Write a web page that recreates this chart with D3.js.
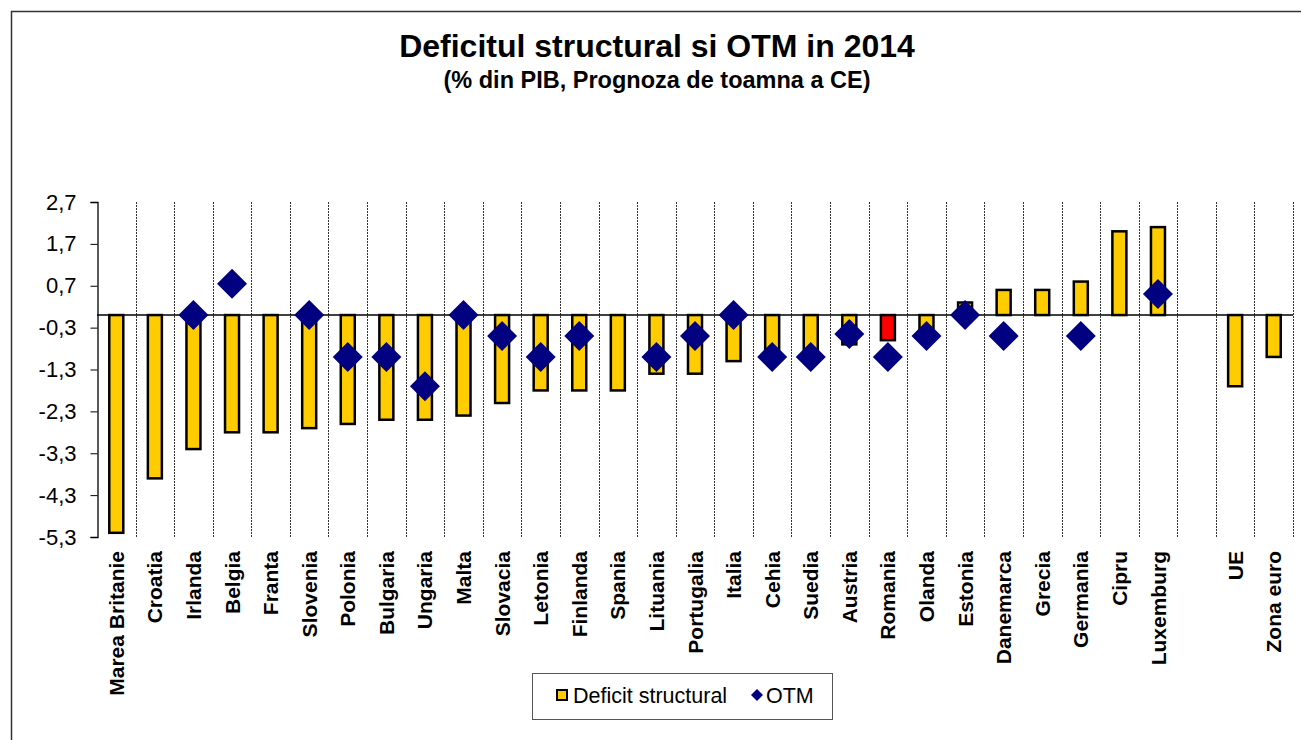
<!DOCTYPE html>
<html>
<head>
<meta charset="utf-8">
<script src="https://cdn.jsdelivr.net/npm/d3@7"></script>
<style>
  body { margin: 0; background: #fff; }
  svg { display: block; font-family: "Liberation Sans", Arial, sans-serif; }
</style>
</head>
<body>
<svg id="chart" width="1301" height="740"></svg>
<script>
// data (% of GDP), "" is the empty gap slot
const categories = ["Marea Britanie", "Croatia", "Irlanda", "Belgia", "Franta", "Slovenia", "Polonia",
  "Bulgaria", "Ungaria", "Malta", "Slovacia", "Letonia", "Finlanda", "Spania", "Lituania", "Portugalia",
  "Italia", "Cehia", "Suedia", "Austria", "Romania", "Olanda", "Estonia", "Danemarca", "Grecia",
  "Germania", "Cipru", "Luxemburg", "", "UE", "Zona euro"]
const deficit = [-5.2, -3.9, -3.2, -2.8, -2.8, -2.7, -2.6, -2.5, -2.5, -2.4, -2.1, -1.8, -1.8, -1.8,
  -1.4, -1.4, -1.1, -1.0, -1.0, -0.7, -0.6, -0.5, 0.3, 0.6, 0.6, 0.8, 2.0, 2.1, null, -1.7, -1.0]
const otm = [null, null, 0, 0.75, null, 0, -1.0, -1.0, -1.7, 0, -0.5, -1.0, -0.5, null, -1.0, -0.5,
  0, -1.0, -1.0, -0.45, -1.0, -0.5, 0, -0.5, null, -0.5, null, 0.5, null, null, null]
const highlight = "Romania"
const tickValues = [2.7, 1.7, 0.7, -0.3, -1.3, -2.3, -3.3, -4.3, -5.3]
const tickLabels = ["2,7", "1,7", "0,7", "-0,3", "-1,3", "-2,3", "-3,3", "-4,3", "-5,3"]

const svg = d3.select("#chart")

// outer frame of the chart object
svg.append("rect")
    .attr("x", 11.5).attr("y", 11.5)
    .attr("width", 1400).attr("height", 800)
    .attr("fill", "none").attr("stroke", "#333").attr("stroke-width", 1.5)

const x = d3.scaleBand()
    .domain(d3.range(categories.length))
    .range([97, 1293])
const y = d3.scaleLinear()
    .domain([-5.3, 2.7])
    .range([537, 202])

// dotted category separators
svg.append("g")
  .selectAll("line")
  .data(d3.range(1, categories.length + 1))
  .join("line")
    .attr("x1", i => Math.round(97 + i * x.step()) + 0.5)
    .attr("x2", i => Math.round(97 + i * x.step()) + 0.5)
    .attr("y1", 202).attr("y2", 537)
    .attr("stroke", "#333")
    .attr("stroke-dasharray", "2,1")

// y axis
const yAxis = svg.append("g")
    .attr("transform", "translate(97.5,0)")
    .call(d3.axisLeft(y).tickValues(tickValues).tickSize(7).tickPadding(14)
        .tickFormat((d, i) => tickLabels[i]))
yAxis.select(".domain").attr("stroke", "#000").attr("stroke-width", 1.3)
yAxis.selectAll(".tick line").attr("stroke", "#000")
yAxis.selectAll("text")
    .attr("font-size", 22)
    .attr("font-family", "Liberation Sans, Arial, sans-serif")
    .attr("fill", "#000")

// bars
const barW = 14
svg.append("g")
  .selectAll("rect")
  .data(deficit.map((v, i) => ({v, i})).filter(d => d.v !== null))
  .join("rect")
    .attr("x", d => x(d.i) + x.bandwidth() / 2 - barW / 2)
    .attr("y", d => y(Math.max(0, d.v)))
    .attr("width", barW)
    .attr("height", d => Math.abs(y(d.v) - y(0)))
    .attr("fill", d => categories[d.i] === highlight ? "#FF0000" : "#FFCC00")
    .attr("stroke", "#000")
    .attr("stroke-width", 2.5)

// zero line
svg.append("line")
    .attr("x1", 97).attr("x2", 1293)
    .attr("y1", y(0)).attr("y2", y(0))
    .attr("stroke", "#000").attr("stroke-width", 1.5)

// OTM diamonds
const diamond = d3.symbol().type(d3.symbolSquare).size(450)
svg.append("g")
  .selectAll("path")
  .data(otm.map((v, i) => ({v, i})).filter(d => d.v !== null))
  .join("path")
    .attr("d", diamond)
    .attr("transform", d => `translate(${x(d.i) + x.bandwidth() / 2},${y(d.v)}) rotate(45)`)
    .attr("fill", "#000080")

// category labels
svg.append("g")
  .selectAll("text")
  .data(categories.map((c, i) => ({c, i})).filter(d => d.c !== ""))
  .join("text")
    .attr("transform", d => `translate(${x(d.i) + x.bandwidth() / 2},551) rotate(-90)`)
    .attr("dy", "0.36em")
    .attr("text-anchor", "end")
    .attr("font-size", 21)
    .attr("font-weight", "bold")
    .text(d => d.c)

// titles
svg.append("text")
    .attr("x", 657).attr("y", 57)
    .attr("text-anchor", "middle")
    .attr("font-size", 32).attr("font-weight", "bold")
    .text("Deficitul structural si OTM in 2014")
svg.append("text")
    .attr("x", 657).attr("y", 88)
    .attr("text-anchor", "middle")
    .attr("font-size", 23.5).attr("font-weight", "bold")
    .text("(% din PIB, Prognoza de toamna a CE)")

// legend
const legend = svg.append("g")
legend.append("rect")
    .attr("x", 532.5).attr("y", 673.5)
    .attr("width", 300).attr("height", 46)
    .attr("fill", "#fff").attr("stroke", "#555")
legend.append("rect")
    .attr("x", 557).attr("y", 690)
    .attr("width", 10).attr("height", 10)
    .attr("fill", "#FFCC00").attr("stroke", "#000").attr("stroke-width", 2)
legend.append("text")
    .attr("x", 573).attr("y", 703)
    .attr("font-size", 21.5)
    .text("Deficit structural")
legend.append("path")
    .attr("d", d3.symbol().type(d3.symbolSquare).size(72))
    .attr("transform", "translate(757,695) rotate(45)")
    .attr("fill", "#000080")
legend.append("text")
    .attr("x", 766).attr("y", 703)
    .attr("font-size", 21.5)
    .text("OTM")
</script>
</body>
</html>
